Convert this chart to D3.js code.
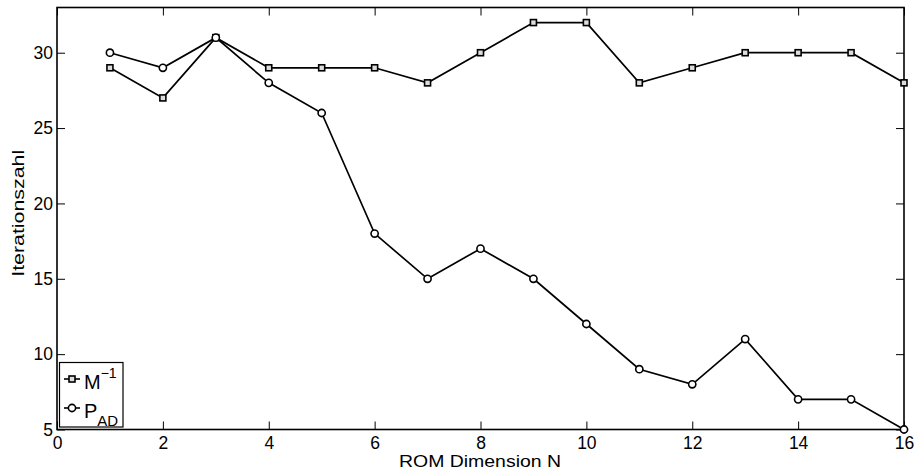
<!DOCTYPE html>
<html>
<head>
<meta charset="utf-8">
<script src="https://cdn.jsdelivr.net/npm/d3@7/dist/d3.min.js"></script>
<style>
  html, body { margin: 0; padding: 0; background: #fff; }
  svg { display: block; font-family: "Liberation Sans", Arial, sans-serif; }
</style>
</head>
<body>
<svg id="chart" width="917" height="475"></svg>
<script>
// ROM dimension and iteration counts for the two preconditioners
const dims = [1, 2, 3, 4, 5, 6, 7, 8, 9, 10, 11, 12, 13, 14, 15, 16];
const itersMinv = [29, 27, 31, 29, 29, 29, 28, 30, 32, 32, 28, 29, 30, 30, 30, 28];
const itersPAD = [30, 29, 31, 28, 26, 18, 15, 17, 15, 12, 9, 8, 11, 7, 7, 5];
const xTicks = [0, 2, 4, 6, 8, 10, 12, 14, 16];
const yTicks = [5, 10, 15, 20, 25, 30];

const svg = d3.select("#chart");
const m = { left: 57, right: 13, top: 7.5, bottom: 45.5 };
const W = 917, H = 475;
const x = d3.scaleLinear().domain([0, 16]).range([m.left, W - m.right]);
const y = d3.scaleLinear().domain([5, 33]).range([H - m.bottom, m.top]);

const tickLen = 8;
const fs = 17.5;

// axes: ticks point inward, mirrored on top/right
const gx = svg.append("g").attr("transform", `translate(0,${y(5)})`)
  .call(d3.axisBottom(x).tickValues(xTicks).tickSize(-tickLen).tickPadding(7));
const gxTop = svg.append("g").attr("transform", `translate(0,${y(33)})`)
  .call(d3.axisTop(x).tickValues(xTicks).tickSize(-tickLen).tickFormat(""));
const gy = svg.append("g").attr("transform", `translate(${x(0)},0)`)
  .call(d3.axisLeft(y).tickValues(yTicks).tickSize(-tickLen).tickPadding(4));
const gyR = svg.append("g").attr("transform", `translate(${x(16)},0)`)
  .call(d3.axisRight(y).tickValues(yTicks).tickSize(-tickLen).tickFormat(""));

[gx, gxTop, gy, gyR].forEach(g => {
  g.select(".domain").remove();
  g.selectAll("line").attr("stroke", "#000").attr("stroke-width", 1);
  g.selectAll("text").attr("fill", "#000").style("font-size", fs + "px")
    .style("font-family", "Liberation Sans, Arial, sans-serif");
});
gx.selectAll("text").attr("dy", "0.71em");

// frame
svg.append("rect")
  .attr("x", x(0)).attr("y", y(33))
  .attr("width", x(16) - x(0)).attr("height", y(5) - y(33))
  .attr("fill", "none").attr("stroke", "#000").attr("stroke-width", 1.6);

const line = d3.line().x(d => x(d[0])).y(d => y(d[1]));
const seriesMinv = dims.map((d, i) => [d, itersMinv[i]]);
const seriesPAD = dims.map((d, i) => [d, itersPAD[i]]);

function drawSeries(data, marker) {
  const g = svg.append("g");
  g.append("path").attr("d", line(data)).attr("fill", "none")
    .attr("stroke", "#000").attr("stroke-width", 1.7);
  if (marker === "square") {
    g.selectAll("rect").data(data).enter().append("rect")
      .attr("x", d => x(d[0]) - 3).attr("y", d => y(d[1]) - 3)
      .attr("width", 6).attr("height", 6)
      .attr("fill", "#ddd").attr("stroke", "#000").attr("stroke-width", 1.6);
  } else {
    g.selectAll("circle").data(data).enter().append("circle")
      .attr("cx", d => x(d[0])).attr("cy", d => y(d[1])).attr("r", 3.6)
      .attr("fill", "#fff").attr("stroke", "#000").attr("stroke-width", 1.6);
  }
}
drawSeries(seriesMinv, "square");
drawSeries(seriesPAD, "circle");

// axis labels
svg.append("text").attr("x", 480).attr("y", 467.3)
  .attr("text-anchor", "middle").style("font-size", "16px")
  .attr("textLength", 162).attr("lengthAdjust", "spacingAndGlyphs")
  .text("ROM Dimension N");
svg.append("text").attr("transform", `translate(24.3,213.3) rotate(-90)`)
  .attr("text-anchor", "middle").style("font-size", "16px")
  .attr("textLength", 127).attr("lengthAdjust", "spacingAndGlyphs")
  .text("Iterationszahl");

// legend
const lg = svg.append("g");
lg.append("rect").attr("x", 59.5).attr("y", 362.5).attr("width", 63.5).attr("height", 64.5)
  .attr("fill", "#fff").attr("stroke", "#000").attr("stroke-width", 1.2);
const entries = [
  { marker: "square", label: "M", sup: "\u22121", sub: null, yy: 379 },
  { marker: "circle", label: "P", sup: null, sub: "AD", yy: 408 }
];
entries.forEach(e => {
  lg.append("line").attr("x1", 64).attr("x2", 80).attr("y1", e.yy).attr("y2", e.yy)
    .attr("stroke", "#000").attr("stroke-width", 1.6);
  if (e.marker === "square") {
    lg.append("rect").attr("x", 72 - 3).attr("y", e.yy - 3).attr("width", 6).attr("height", 6)
      .attr("fill", "#ddd").attr("stroke", "#000").attr("stroke-width", 1.6);
  } else {
    lg.append("circle").attr("cx", 72).attr("cy", e.yy).attr("r", 3.6)
      .attr("fill", "#fff").attr("stroke", "#000").attr("stroke-width", 1.6);
  }
  const t = lg.append("text").attr("x", 84).attr("y", e.yy + 10).style("font-size", "20px");
  t.append("tspan").text(e.label);
  if (e.sup) t.append("tspan").attr("dy", -11).style("font-size", "14px").text(e.sup);
  if (e.sub) t.append("tspan").attr("dy", 8).style("font-size", "15px").text(e.sub);
});
</script>
</body>
</html>
